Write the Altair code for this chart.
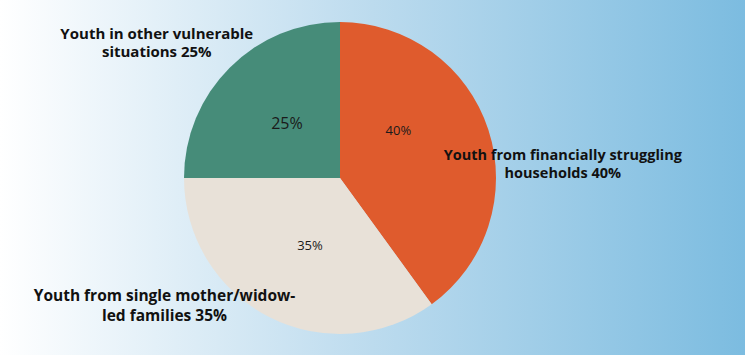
import altair as alt
import pandas as pd

categories = [
    "Youth from financially struggling households",
    "Youth from single mother/widow-led families",
    "Youth in other vulnerable situations",
]
values = [40, 35, 25]
inner_labels = ["40%", "35%", "25%"]
outer_labels = [
    "Youth from financially struggling\nhouseholds 40%",
    "Youth from single mother/widow-\nled families 35%",
    "Youth in other vulnerable\nsituations 25%",
]
colors = ["#DF5B2D", "#E8E1D8", "#468C79"]

df = pd.DataFrame({
    "category": categories,
    "value": values,
    "inner": inner_labels,
    "outer": outer_labels,
    "order": list(range(len(categories))),
})

W, H = 745, 355
CX, CY = 340, 178
R = 156

base = alt.Chart(df).transform_window(
    cum="sum(value)", sort=[alt.SortField("order")], frame=[None, 0]
).transform_calculate(
    mid="datum.cum - datum.value / 2"
)

theta_scale = alt.Scale(domain=[0, 100])

bg = alt.Chart(pd.DataFrame({"a": [0]})).mark_rect(
    fill=alt.Gradient(
        gradient="linear",
        stops=[
            alt.GradientStop(color="#FFFFFF", offset=0),
            alt.GradientStop(color="#BCDBEE", offset=0.5),
            alt.GradientStop(color="#7CBCE0", offset=1),
        ],
        x1=0, x2=1, y1=0, y2=0,
    )
).encode(x=alt.value(0), x2=alt.value(W), y=alt.value(0), y2=alt.value(H))

pie = alt.Chart(df).mark_arc(radius=R).encode(
    theta=alt.Theta("value:Q", stack=True, scale=theta_scale),
    order=alt.Order("order:Q"),
    color=alt.Color("category:N", scale=alt.Scale(domain=categories, range=colors), legend=None),
    x=alt.value(CX),
    y=alt.value(CY),
)

# per-slice label styling (offsets / sizes)
inner_style = {
    categories[0]: dict(dx=-13, dy=-24, size=13),
    categories[1]: dict(dx=4, dy=1, size=13),
    categories[2]: dict(dx=0, dy=-1, size=16),
}
outer_style = {
    categories[0]: dict(dx=6, dy=48, size=14.5, lh=18),
    categories[1]: dict(dx=-72, dy=-85, size=15.5, lh=20),
    categories[2]: dict(dx=-22, dy=17, size=15, lh=18),
}

layers = [bg, pie]
for cat in categories:
    s = inner_style[cat]
    layers.append(
        base.transform_filter(alt.datum.category == cat).mark_text(
            radius=75, fontSize=s["size"], font="Open Sans", color="#1a1a1a",
            dx=s["dx"], dy=s["dy"], baseline="middle", align="center",
        ).encode(
            theta=alt.Theta("mid:Q", stack=None, scale=theta_scale),
            text="inner:N",
            x=alt.value(CX), y=alt.value(CY),
        )
    )
    o = outer_style[cat]
    layers.append(
        base.transform_filter(alt.datum.category == cat).mark_text(
            radius=228, fontSize=o["size"], font="Open Sans", fontWeight="bold", color="#111111",
            dx=o["dx"], dy=o["dy"], baseline="middle", align="center",
            lineBreak="\n", lineHeight=o["lh"],
        ).encode(
            theta=alt.Theta("mid:Q", stack=None, scale=theta_scale),
            text="outer:N",
            x=alt.value(CX), y=alt.value(CY),
        )
    )

chart = alt.layer(*layers).properties(
    width=W, height=H, padding=0, autosize=alt.AutoSizeParams(type="none")
).configure_view(stroke=None)

chart.save("out.html", embed_options={"renderer": "svg", "actions": False})
